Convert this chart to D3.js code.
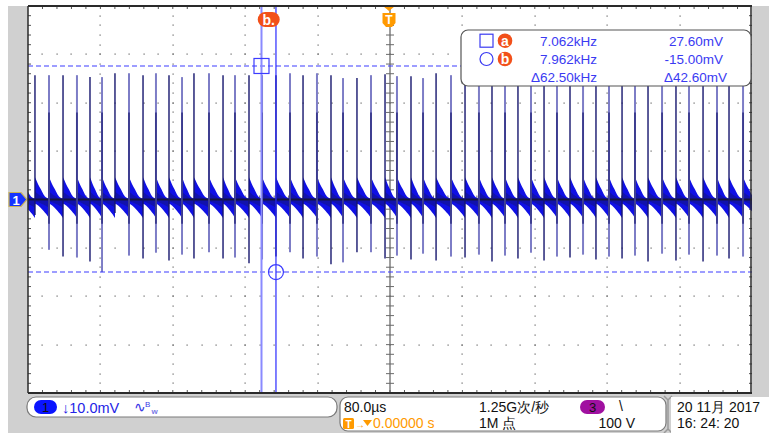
<!DOCTYPE html>
<html>
<head>
<meta charset="utf-8">
<script src="https://cdn.jsdelivr.net/npm/d3@7/dist/d3.min.js"></script>
<style>
html,body{margin:0;padding:0;background:#fff;}
svg{display:block;}
text{font-family:"Liberation Sans",Arial,sans-serif;}
</style>
</head>
<body>
<svg id="scope" width="769" height="433"></svg>
<script>
// Channel 1 pulse train: 80 µs/div horizontally, 10 mV/div vertically, trigger at t = 0
const timeRange = [-400, 400];   // µs
const voltRange = [-40, 40];     // mV

// pulse instants (µs), positive peak and negative trough (mV)
const pulseTimes = [-392.3, -376.8, -361.3, -345.9, -331.5, -318.2, -303.9, -288.4, -272.9, -258.6,
  -244.2, -229.8, -216.6, -200.0, -184.5, -171.3, -155.8, -141.4, -126.0, -110.5,
  -96.1, -80.7, -65.2, -51.9, -36.5, -21.0, -5.5, 7.7, 23.2, 36.5,
  50.9, 67.4, 82.9, 98.3, 112.7, 127.1, 141.4, 155.8, 170.2, 184.5,
  198.9, 213.3, 227.6, 242.0, 256.4, 270.7, 285.1, 300.6, 316.0, 330.4,
  345.9, 361.3, 374.6, 390.1];
const pulsePeaks = [25.7, 25.7, 25.7, 25.7, 25.3, 25.3, 26.1, 26.1, 25.7, 26.1,
  25.7, 25.3, 26.1, 26.1, 25.7, 25.7, 25.7, 25.7, 25.7, 26.1,
  25.7, 26.1, 25.7, 25.1, 25.1, 25.7, 25.9, 25.5, 25.5, 25.1,
  26.1, 25.7, 25.8, 25.6, 25.9, 25.7, 25.4, 25.8, 25.6, 25.9,
  25.5, 25.7, 25.8, 25.4, 25.9, 25.6, 25.7, 25.8, 25.5, 25.9,
  25.6, 25.7, 25.8, 25.6];
const pulseTroughs = [-3.2, -10.4, -11.8, -12.0, -12.8, -15.0, -2.8, -11.6, -12.2, -11.0,
  -12.6, -11.4, -12.2, -10.9, -12.2, -12.0, -13.2, -12.4, -11.8, -10.9,
  -12.2, -11.8, -13.4, -13.0, -10.9, -10.9, -12.2, -11.6, -12.4, -11.2,
  -12.6, -11.8, -12.0, -11.4, -12.8, -11.6, -12.2, -11.0, -12.6, -11.8,
  -12.0, -11.4, -12.4, -11.8, -12.2, -11.6, -12.8, -11.2, -12.6, -11.4,
  -12.8, -11.6, -12.2, -11.8];

// ringing envelope between two pulses: fraction of the interval -> mV
const ringPhase = [0, 0.1, 0.25, 0.4, 0.6, 0.8, 1.0];
const ringUpper = [4.6, 4.0, 3.0, 2.2, 1.1, 0.4, 0.2];
const ringLower = [-0.9, -1.0, -1.3, -1.7, -2.3, -3.0, -3.8];

// cursors
const cursorNames = ["a", "b"];
const cursorTimes = [-142, -126];
const cursorLevels = [27.60, -15.00];
const readFreq = ["7.062kHz", "7.962kHz", "\u039462.50kHz"];
const readVolt = ["27.60mV", "-15.00mV", "\u039442.60mV"];

// status bar
const ch1Scale = "\u219310.0mV";
const timeScale = "80.0\u00b5s";
const triggerDelay = "0.00000 s";
const sampleRate = "1.25G\u6b21/\u79d2";
const recordLength = "1M \u70b9";
const trigLevel = "100 V";
const dateText = "20 11\u6708  2017";
const timeText = "16: 24: 20";

const W = 769, H = 433;
const plot = {left: 28, right: 752, top: 6, bottom: 393};
const svg = d3.select("#scope");
const x = d3.scaleLinear().domain(timeRange).range([plot.left, plot.right]);
const y = d3.scaleLinear().domain(voltRange).range([plot.bottom, plot.top]);

const blue = "#3a3af2", orange = "#ff9a00", red = "#f2501a";

// instrument background and screen
svg.append("rect").attr("x", 8).attr("y", 6).attr("width", W - 8).attr("height", H - 6).attr("fill", "#d0d0d0");
svg.append("rect").attr("x", plot.left).attr("y", plot.top)
  .attr("width", plot.right - plot.left).attr("height", plot.bottom - plot.top).attr("fill", "#fff");

const xMajor = d3.range(timeRange[0], timeRange[1] + 1, 80);
const xMinor = d3.range(timeRange[0], timeRange[1] + 1, 16);
const yMajor = d3.range(voltRange[0], voltRange[1] + 1, 10);
const yMinor = d3.range(voltRange[0], voltRange[1] + 1, 2);

// dotted graticule
const grid = svg.append("g").attr("fill", "#666");
xMajor.slice(1, -1).filter(t => t !== 0).forEach(t => {
  grid.selectAll(null).data(yMinor.slice(1, -1)).enter().append("rect")
    .attr("x", Math.round(x(t)) - 0.5).attr("y", v => Math.round(y(v)) - 0.5)
    .attr("width", 1.2).attr("height", 1.2);
});
yMajor.slice(1, -1).filter(v => v !== 0).forEach(v => {
  grid.selectAll(null).data(xMinor.slice(1, -1)).enter().append("rect")
    .attr("x", t => Math.round(x(t)) - 0.5).attr("y", Math.round(y(v)) - 0.5)
    .attr("width", 1.2).attr("height", 1.2);
});

// centre axes with minor ticks
const axes = svg.append("g").attr("stroke", "#6a6a6a");
axes.append("line").attr("x1", x(0)).attr("x2", x(0)).attr("y1", plot.top).attr("y2", plot.bottom).attr("stroke-width", 1.3);
axes.selectAll(null).data(yMinor.slice(1, -1)).enter().append("line")
  .attr("x1", x(0) - 4).attr("x2", x(0) + 4).attr("y1", v => y(v)).attr("y2", v => y(v)).attr("stroke-width", 1);
axes.append("line").attr("x1", plot.left).attr("x2", plot.right).attr("y1", y(0)).attr("y2", y(0)).attr("stroke-width", 1.3);
axes.selectAll(null).data(xMinor.slice(1, -1)).enter().append("line")
  .attr("x1", t => x(t)).attr("x2", t => x(t)).attr("y1", y(0) - 4).attr("y2", y(0) + 4).attr("stroke-width", 1);

// ticks along the screen edges
const edge = svg.append("g").attr("stroke", "#555").attr("stroke-width", 1);
edge.selectAll(null).data(xMinor.slice(1, -1)).enter().append("line")
  .attr("x1", t => x(t)).attr("x2", t => x(t)).attr("y1", plot.top).attr("y2", plot.top + 3);
edge.selectAll(null).data(xMinor.slice(1, -1)).enter().append("line")
  .attr("x1", t => x(t)).attr("x2", t => x(t)).attr("y1", plot.bottom - 3).attr("y2", plot.bottom);
edge.selectAll(null).data(yMinor.slice(1, -1)).enter().append("line")
  .attr("x1", plot.left).attr("x2", plot.left + 3).attr("y1", v => y(v)).attr("y2", v => y(v));
edge.selectAll(null).data(yMinor.slice(1, -1)).enter().append("line")
  .attr("x1", plot.right - 3).attr("x2", plot.right).attr("y1", v => y(v)).attr("y2", v => y(v));

// trace
svg.append("defs").append("clipPath").attr("id", "screenClip").append("rect")
  .attr("x", plot.left).attr("y", plot.top).attr("width", plot.right - plot.left).attr("height", plot.bottom - plot.top);
const trace = svg.append("g").attr("clip-path", "url(#screenClip)");

const n = pulseTimes.length;
const starts = [pulseTimes[0] - (pulseTimes[1] - pulseTimes[0])].concat(pulseTimes);
const ends = pulseTimes.concat([pulseTimes[n - 1] + (pulseTimes[n - 1] - pulseTimes[n - 2])]);
const band = d3.area().x(d => x(d.t)).y0(d => y(d.lo)).y1(d => y(d.hi)).curve(d3.curveMonotoneX);
starts.forEach((a, i) => {
  const b = ends[i];
  const pts = ringPhase.map((p, j) => ({t: a + p * (b - a), hi: ringUpper[j], lo: ringLower[j]}));
  trace.append("path").attr("d", band(pts)).attr("fill", "#1010e4");
  // denser, darker core of the persistence band
  const core = ringPhase.map((p, j) => ({t: a + p * (b - a), hi: ringUpper[j] * 0.35, lo: ringLower[j] * 0.45}));
  trace.append("path").attr("d", band(core)).attr("fill", "#14147e").attr("opacity", 0.55);
});
trace.append("line").attr("x1", plot.left).attr("x2", plot.right).attr("y1", y(0)).attr("y2", y(0))
  .attr("stroke", "#161640").attr("stroke-width", 2);

trace.selectAll("line.pulse").data(pulseTimes).enter().append("line").attr("class", "pulse")
  .attr("x1", t => x(t)).attr("x2", t => x(t))
  .attr("y1", (t, i) => y(pulsePeaks[i])).attr("y2", (t, i) => y(pulseTroughs[i]))
  .attr("stroke", (t, i) => i % 2 ? "#7d7dc6" : "#16166e")
  .attr("stroke-width", (t, i) => i % 2 ? 2 : 1.4);
trace.selectAll("line.core").data(pulseTimes.filter((t, i) => i % 2)).enter().append("line").attr("class", "core")
  .attr("x1", t => x(t)).attr("x2", t => x(t))
  .attr("y1", y(18)).attr("y2", (t, k) => y(Math.max(pulseTroughs[2 * k + 1], -5)))
  .attr("stroke", "#16166e").attr("stroke-width", 1.2);

// cursor lines and markers
const cur = svg.append("g");
cursorLevels.forEach(v => {
  cur.append("line").attr("x1", plot.left).attr("x2", plot.right).attr("y1", y(v)).attr("y2", y(v))
    .attr("stroke", "#3c3cff").attr("stroke-width", 1.1).attr("stroke-dasharray", "5,3");
});
cur.append("line").attr("x1", x(cursorTimes[0])).attr("x2", x(cursorTimes[0]))
  .attr("y1", plot.top).attr("y2", plot.bottom).attr("stroke", "#8a8aff").attr("stroke-width", 2);
cur.append("line").attr("x1", x(cursorTimes[1])).attr("x2", x(cursorTimes[1]))
  .attr("y1", plot.top).attr("y2", plot.bottom).attr("stroke", "#2a2aff").attr("stroke-width", 1.2);
cur.append("rect").attr("x", x(cursorTimes[0]) - 7.5).attr("y", y(cursorLevels[0]) - 7.5)
  .attr("width", 15).attr("height", 15).attr("fill", "none").attr("stroke", "#3c3cff").attr("stroke-width", 1.2);
cur.append("circle").attr("cx", x(cursorTimes[1])).attr("cy", y(cursorLevels[1])).attr("r", 7.5)
  .attr("fill", "none").attr("stroke", "#3c3cff").attr("stroke-width", 1.2);

// cursor tag at the top edge
const tagX = (x(cursorTimes[0]) + x(cursorTimes[1])) / 2;
cur.append("rect").attr("x", tagX - 11).attr("y", 12).attr("width", 22).attr("height", 15).attr("rx", 7.5)
  .attr("fill", red);
cur.append("text").attr("x", tagX).attr("y", 24.5).attr("text-anchor", "middle")
  .attr("fill", "#fff").attr("font-weight", "bold").attr("font-size", 14).text(cursorNames[1] + ".");

// trigger position marker
const tx = x(0) - 1;
svg.append("path").attr("d", `M${tx - 6},6 L${tx + 6},6 L${tx},11 Z`).attr("fill", orange);
svg.append("path").attr("d", `M${tx - 6.5},13 h13 v10 l-3.5,4 h-6 l-3.5,-4 Z`).attr("fill", orange);
svg.append("text").attr("x", tx).attr("y", 24).attr("text-anchor", "middle").attr("fill", "#fff")
  .attr("font-weight", "bold").attr("font-size", 12).text("T");

// channel 1 ground marker
const gy = y(0);
svg.append("path").attr("d", `M9,${gy - 7} h12 l6,7 l-6,7 h-12 Z`)
  .attr("fill", "#1632ff").attr("stroke", "#c9b25a").attr("stroke-width", 1.2);
svg.append("text").attr("x", 16).attr("y", gy + 5).attr("text-anchor", "middle").attr("fill", "#fff")
  .attr("font-weight", "bold").attr("font-size", 13).text("1");

// screen frame
const frame = svg.append("g").attr("stroke", "#2a2a2a").attr("fill", "none");
frame.append("line").attr("x1", plot.left).attr("x2", plot.right).attr("y1", plot.top).attr("y2", plot.top).attr("stroke-width", 2);
frame.append("line").attr("x1", plot.left).attr("x2", plot.right).attr("y1", plot.bottom).attr("y2", plot.bottom).attr("stroke-width", 2);
frame.append("line").attr("x1", plot.left).attr("x2", plot.left).attr("y1", plot.top).attr("y2", plot.bottom).attr("stroke-width", 1.5);
frame.append("line").attr("x1", plot.right - 1).attr("x2", plot.right - 1).attr("y1", plot.top).attr("y2", plot.bottom).attr("stroke-width", 1.5);

// cursor readout box
const box = svg.append("g");
box.append("rect").attr("x", 461).attr("y", 30).attr("width", 290).attr("height", 56).attr("rx", 7)
  .attr("fill", "#fff").attr("stroke", "#555").attr("stroke-width", 1.2);
const rowY = [40.7, 59, 77.3];
box.append("rect").attr("x", 480).attr("y", rowY[0] - 6.5).attr("width", 13).attr("height", 13)
  .attr("fill", "none").attr("stroke", blue).attr("stroke-width", 1.2);
box.append("circle").attr("cx", 486.5).attr("cy", rowY[1]).attr("r", 6.5)
  .attr("fill", "none").attr("stroke", blue).attr("stroke-width", 1.2);
cursorNames.forEach((nm, i) => {
  box.append("circle").attr("cx", 505).attr("cy", rowY[i]).attr("r", 7.3).attr("fill", red);
  box.append("text").attr("x", 505).attr("y", rowY[i] + 4.8).attr("text-anchor", "middle")
    .attr("fill", "#fff").attr("font-weight", "bold").attr("font-size", 14).text(nm);
});
readFreq.forEach((s, i) => {
  box.append("text").attr("x", 597).attr("y", rowY[i] + 5).attr("text-anchor", "end")
    .attr("fill", blue).attr("font-size", 13.5).text(s);
});
readVolt.forEach((s, i) => {
  box.append("text").attr("x", i === 2 ? 727 : 723).attr("y", rowY[i] + 5).attr("text-anchor", "end")
    .attr("fill", blue).attr("font-size", 13.5).text(s);
});

// status bar
const bar = svg.append("g");
bar.append("rect").attr("x", 27).attr("y", 397).attr("width", 310).attr("height", 20).attr("rx", 9)
  .attr("fill", "#fff").attr("stroke", "#7a7a7a").attr("stroke-width", 1.2);
bar.append("rect").attr("x", 34).attr("y", 400).attr("width", 23).attr("height", 14).attr("rx", 7).attr("fill", "#0a14ff");
bar.append("text").attr("x", 45.5).attr("y", 412).attr("text-anchor", "middle").attr("font-size", 13).attr("fill", "#111").text("1");
bar.append("text").attr("x", 62).attr("y", 412.5).attr("font-size", 14.5).attr("fill", "#2424e6").text(ch1Scale);
bar.append("text").attr("x", 134).attr("y", 412).attr("font-size", 14).attr("fill", "#3a3ae6").text("\u223f");
bar.append("text").attr("x", 145).attr("y", 407).attr("font-size", 8).attr("fill", "#3a3ae6").text("B");
bar.append("text").attr("x", 151.5).attr("y", 414).attr("font-size", 8).attr("font-weight", "bold").attr("fill", "#7a7ae6").text("w");

bar.append("rect").attr("x", 340).attr("y", 397).attr("width", 326).attr("height", 34).attr("rx", 8)
  .attr("fill", "#fff").attr("stroke", "#7a7a7a").attr("stroke-width", 1.2);
bar.append("text").attr("x", 344).attr("y", 412).attr("font-size", 14).attr("fill", "#111").text(timeScale);
bar.append("rect").attr("x", 343).attr("y", 418).attr("width", 11).attr("height", 11).attr("rx", 1.5).attr("fill", orange);
bar.append("text").attr("x", 348.5).attr("y", 427.5).attr("text-anchor", "middle").attr("font-size", 10)
  .attr("font-weight", "bold").attr("fill", "#fff").text("T");
bar.append("text").attr("x", 355).attr("y", 428).attr("font-size", 10).attr("fill", orange).text("\u2192");
bar.append("path").attr("d", "M363,420 h9 l-4.5,6 Z").attr("fill", orange);
bar.append("text").attr("x", 373).attr("y", 428).attr("font-size", 14).attr("fill", orange).text(triggerDelay);
bar.append("text").attr("x", 479).attr("y", 412).attr("font-size", 14).attr("fill", "#111").text(sampleRate);
bar.append("text").attr("x", 479).attr("y", 428).attr("font-size", 14).attr("fill", "#111").text(recordLength);
bar.append("rect").attr("x", 580).attr("y", 400).attr("width", 25).attr("height", 14).attr("rx", 7).attr("fill", "#a010a0");
bar.append("text").attr("x", 592.5).attr("y", 412).attr("text-anchor", "middle").attr("font-size", 13).attr("fill", "#111").text("3");
bar.append("text").attr("x", 619).attr("y", 411).attr("font-size", 14).attr("fill", "#111").text("\\");
bar.append("text").attr("x", 635).attr("y", 428).attr("text-anchor", "end").attr("font-size", 14).attr("fill", "#111").text(trigLevel);

bar.append("path").attr("d", "M664,396 L668,400 L668,429 L664,433 M672,396 L668,400 M672,433 L668,429")
  .attr("fill", "none").attr("stroke", "#9a9a9a").attr("stroke-width", 1.5);
bar.append("rect").attr("x", 671).attr("y", 397).attr("width", 110).attr("height", 40).attr("fill", "#fff");
bar.append("text").attr("x", 677).attr("y", 412).attr("font-size", 14).attr("fill", "#111").text(dateText);
bar.append("text").attr("x", 677).attr("y", 428).attr("font-size", 14).attr("fill", "#111").text(timeText);
</script>
</body>
</html>
